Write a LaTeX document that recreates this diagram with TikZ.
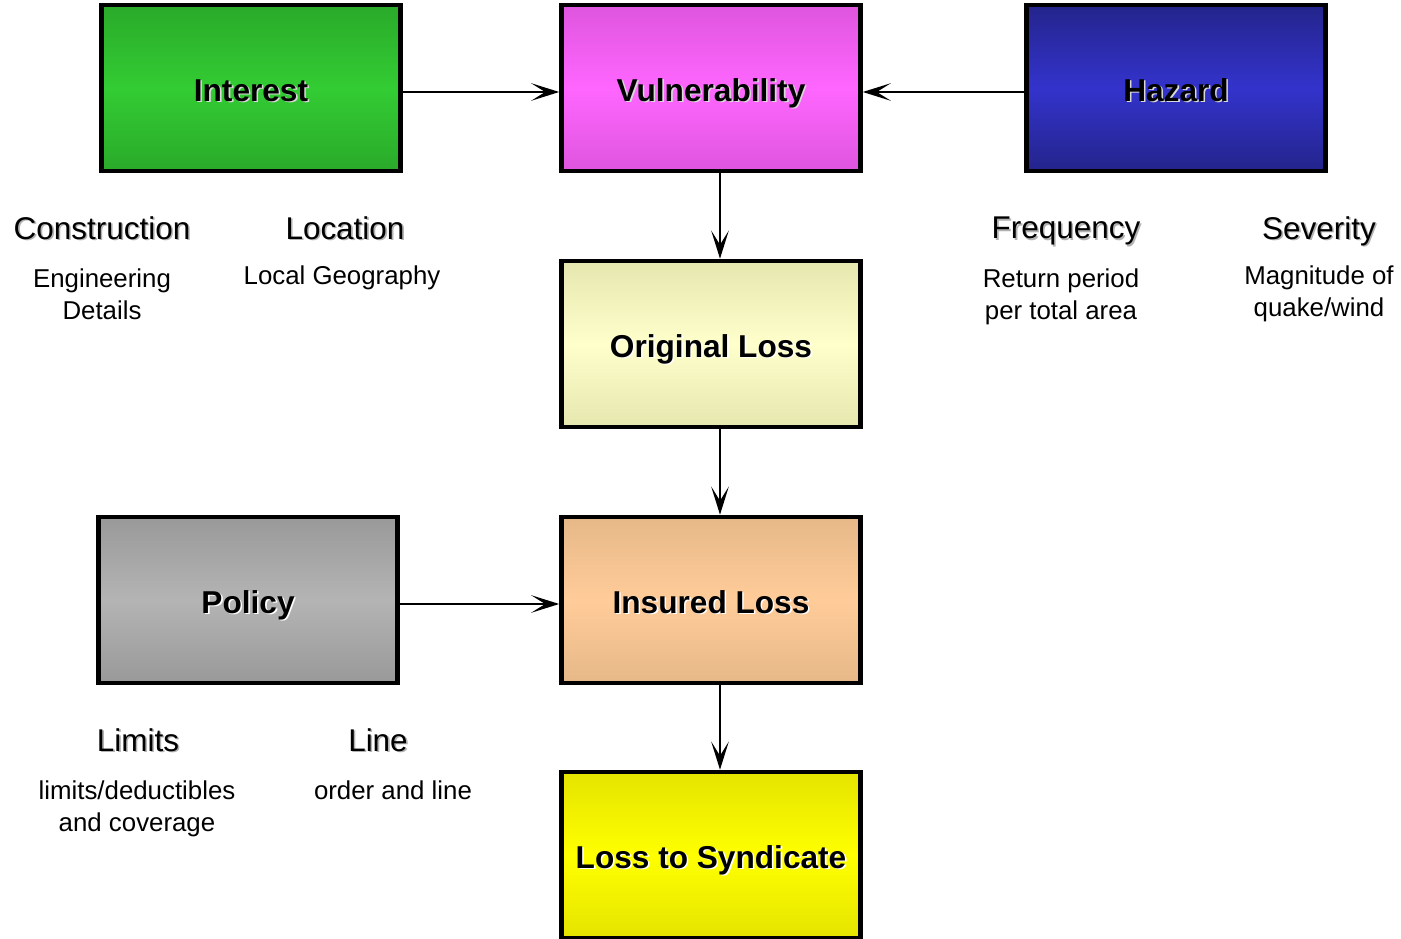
\documentclass[tikz,border=0pt]{standalone}
\usepackage{fontspec}
\setmainfont{Liberation Sans}
\usetikzlibrary{arrows.meta}

% text with a copy set a little lower right behind it
\newcommand{\shadowed}[2]{\leavevmode\rlap{\raisebox{-0.9pt}[0pt][0pt]{\hspace{0.9pt}\textcolor{#1}{#2}}}#2}

\definecolor{intedge}{RGB}{42,170,42}
\definecolor{intmid}{RGB}{51,204,51}
\definecolor{vuledge}{RGB}{222,85,222}
\definecolor{vulmid}{RGB}{255,102,255}
\definecolor{hazedge}{RGB}{36,36,140}
\definecolor{hazmid}{RGB}{51,51,204}
\definecolor{origedge}{RGB}{230,230,175}
\definecolor{origmid}{RGB}{255,255,204}
\definecolor{insedge}{RGB}{230,184,136}
\definecolor{insmid}{RGB}{255,204,153}
\definecolor{poledge}{RGB}{153,153,153}
\definecolor{polmid}{RGB}{180,180,180}
\definecolor{synedge}{RGB}{228,228,0}
\definecolor{synmid}{RGB}{255,255,0}

\tikzset{
    block/.style={draw, line width=2.6pt, rectangle, minimum width=5.98cm, minimum height=3.32cm,
        text height=15pt, text depth=0pt, font=\fontsize{18}{22}\selectfont\bfseries,
        top color=#1edge, bottom color=#1edge, middle color=#1mid},
    head/.style={font=\fontsize{17.9}{21}\selectfont},
    note/.style={font=\fontsize{14.7}{18}\selectfont, align=center},
    flow/.style={-{Stealth[length=16pt,width=10pt,inset=8pt]}, line width=1.3pt}
}

\begin{document}
\begin{tikzpicture}[x=0.02cm, y=-0.02cm]
    \useasboundingbox (0,0) rectangle (1401,939);

    \node[block=int] (int) at (251,88) {\shadowed{white!85!black}{Interest}};
    \node[block=vul] (vul) at (711,88) {\shadowed{white!85!black}{Vulnerability}};
    \node[block=haz] (haz) at (1176,88) {\shadowed{white!85!black}{Hazard}};
    \node[block=orig] (orig) at (711,344) {\shadowed{white}{Original Loss}};
    \node[block=ins] (ins) at (711,600) {\shadowed{white}{Insured Loss}};
    \node[block=pol] (pol) at (248,600) {\shadowed{white}{Policy}};
    \node[block=syn] (syn) at (711,855) {\shadowed{white}{Loss to Syndicate}};

    \node[head] (cons) at (102,228) {\shadowed{black!30}{Construction}};
    \node[head] (loc) at (345,228) {\shadowed{black!30}{Location}};
    \node[note] (eng) at (102,294) {Engineering\\Details};
    \node[note] (geo) at (342,278) {Local Geography};

    \node[head] (freq) at (1066,231) {\shadowed{black!30}{Frequency}};
    \node[head] (sev) at (1319,231) {\shadowed{black!30}{Severity}};
    \node[note] (ret) at (1061,297) {Return period\\per total area};
    \node[note] (mag) at (1319,294) {Magnitude of\\quake/wind};

    \node[head] (lim) at (138,740) {\shadowed{black!30}{Limits}};
    \node[head] (line) at (378,740) {\shadowed{black!30}{Line}};
    \node[note] (ded) at (137,809) {limits/deductibles\\and coverage};
    \node[note] (ord) at (393,790) {order and line};

    \draw[flow] ([yshift=-0.08cm]int.east) -- ([yshift=-0.08cm]vul.west);
    \draw[flow] ([yshift=-0.08cm]haz.west) -- ([yshift=-0.08cm]vul.east);
    \draw[flow] ([xshift=0.18cm]vul.south) -- ([xshift=0.18cm]orig.north);
    \draw[flow] ([xshift=0.18cm]orig.south) -- ([xshift=0.18cm]ins.north);
    \draw[flow] ([xshift=0.18cm]ins.south) -- ([xshift=0.18cm]syn.north);
    \draw[flow] ([yshift=-0.08cm]pol.east) -- ([yshift=-0.08cm]ins.west);
\end{tikzpicture}
\end{document}
